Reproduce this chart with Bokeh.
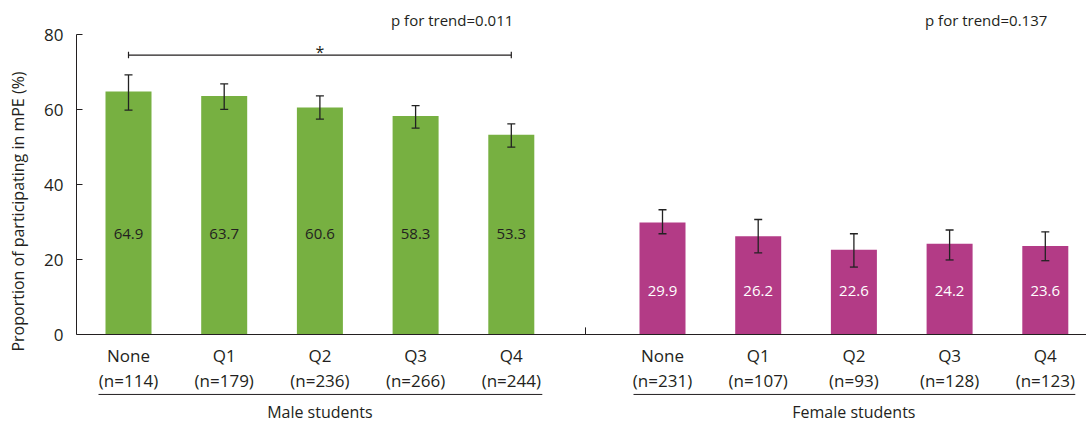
from bokeh.plotting import figure
from bokeh.models import Range1d, FixedTicker, Span, Whisker, TeeHead, ColumnDataSource
from bokeh.core.properties import value
from bokeh.embed import file_html
from bokeh.resources import INLINE

# ---- data ----
quartiles = ["None", "Q1", "Q2", "Q3", "Q4"]
male_n = [114, 179, 236, 266, 244]
female_n = [231, 107, 93, 128, 123]
male_pct = [64.9, 63.7, 60.6, 58.3, 53.3]
female_pct = [29.9, 26.2, 22.6, 24.2, 23.6]
male_upper = [69.3, 66.9, 63.7, 61.1, 56.2]
male_lower = [59.9, 60.1, 57.5, 55.1, 50.0]
female_upper = [33.3, 30.7, 26.9, 27.9, 27.4]
female_lower = [26.9, 21.8, 18.0, 19.9, 19.7]
group_names = ["Male students", "Female students"]
trend_texts = ["p for trend=0.011", "p for trend=0.137"]
y_ticks = [0, 20, 40, 60, 80]

# ---- layout / style constants ----
FONT = "Open Sans"
TXT = "#231f20"
GREEN = "#77b041"
MAGENTA = "#b33b86"
male_start, female_start, step, bar_w = 52, 586, 95.7, 46
divider_x = 509

male_x = [male_start + i * step for i in range(len(quartiles))]
female_x = [female_start + i * step for i in range(len(quartiles))]

p = figure(width=1086, height=422, output_backend="svg", toolbar_location=None,
           x_range=Range1d(0, 1010), y_range=Range1d(-23.49, 89.16),
           min_border_left=76, min_border_right=0, min_border_top=0, min_border_bottom=0,
           x_axis_location=None)
p.outline_line_color = None
p.grid.visible = False
p.background_fill_color = "white"

# y axis
ya = p.yaxis[0]
ya.bounds = (0, 80)
ya.ticker = FixedTicker(ticks=y_ticks)
ya.minor_tick_line_color = None
ya.major_tick_in = 6
ya.major_tick_out = 0
ya.axis_line_color = TXT
ya.major_tick_line_color = TXT
ya.major_label_text_font = FONT
ya.major_label_text_font_size = "17px"
ya.major_label_text_color = TXT
ya.major_label_standoff = 13
ya.axis_label = "Proportion of participating in mPE (%)"
ya.axis_label_text_font = FONT
ya.axis_label_text_font_size = "16px"
ya.axis_label_text_font_style = "normal"
ya.axis_label_text_color = TXT
ya.axis_label_standoff = 12

# baseline (x axis line)
p.add_layout(Span(location=0, dimension="width", line_color=TXT, line_width=1.2))
p.segment(x0=[divider_x], y0=[0], x1=[divider_x], y1=[1.9], line_color=TXT, line_width=1)

# bars
p.vbar(x=male_x, top=male_pct, width=bar_w, bottom=0, fill_color=GREEN, line_color=None)
p.vbar(x=female_x, top=female_pct, width=bar_w, bottom=0, fill_color=MAGENTA, line_color=None)

# error bars
for xs, up, lo in [(male_x, male_upper, male_lower), (female_x, female_upper, female_lower)]:
    src = ColumnDataSource(dict(x=xs, upper=up, lower=lo))
    w = Whisker(base="x", upper="upper", lower="lower", source=src, level="annotation",
                line_color="#222222", line_width=1.3,
                upper_head=TeeHead(size=8, line_color="#222222", line_width=1.3),
                lower_head=TeeHead(size=8, line_color="#222222", line_width=1.3))
    p.add_layout(w)

# value labels
p.text(x=male_x, y=[26.9] * len(male_x), text=[f"{v:.1f}" for v in male_pct],
       text_font=value(FONT), text_font_size="15px", text_color=TXT,
       text_align="center", text_baseline="middle")
p.text(x=female_x, y=[11.6] * len(female_x), text=[f"{v:.1f}" for v in female_pct],
       text_font=value(FONT), text_font_size="15px", text_color="white",
       text_align="center", text_baseline="middle")

# category labels
all_x = male_x + female_x
p.text(x=all_x, y=[-5.6] * len(all_x), text=quartiles + quartiles,
       text_font=value(FONT), text_font_size="17px", text_color=TXT,
       text_align="center", text_baseline="middle")
p.text(x=all_x, y=[-12.3] * len(all_x), text=[f"(n={n})" for n in male_n + female_n],
       text_font=value(FONT), text_font_size="17px", text_color=TXT,
       text_align="center", text_baseline="middle")

# group underlines and names
p.segment(x0=[male_x[0] - 30, female_x[0] - 29], y0=[-16.0, -16.0],
          x1=[male_x[-1] + 31, female_x[-1] + 30], y1=[-16.0, -16.0],
          line_color=TXT, line_width=1)
p.text(x=[male_x[2], female_x[2]], y=[-20.8, -20.8], text=group_names,
       text_font=value(FONT), text_font_size="16px", text_color=TXT,
       text_align="center", text_baseline="middle")

# p for trend texts
p.text(x=[male_x[-1] + 2, female_x[-1] + 2], y=[84.0, 84.0], text=trend_texts,
       text_font=value(FONT), text_font_size="15px", text_color=TXT,
       text_align="right", text_baseline="middle")

# significance bracket
by = 74.6
p.segment(x0=[male_x[0], male_x[0], male_x[-1]], y0=[by, by - 0.85, by - 0.85],
          x1=[male_x[-1], male_x[0], male_x[-1]], y1=[by, by + 0.85, by + 0.85],
          line_color=TXT, line_width=1.2)
p.text(x=[male_x[2]], y=[75.3], text=["*"], text_font=value(FONT), text_font_size="16px",
       text_color=TXT, text_align="center", text_baseline="alphabetic")

open("out.html", "w").write(file_html(p, INLINE))
